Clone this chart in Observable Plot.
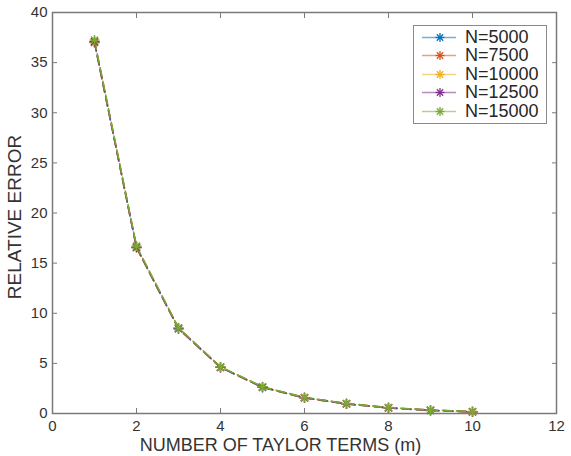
<!DOCTYPE html>
<html><head><meta charset="utf-8">
<script src="https://cdn.jsdelivr.net/npm/d3@7"></script>
<script src="https://cdn.jsdelivr.net/npm/@observablehq/plot@0.6"></script>
<style>
body{margin:0;background:#fff;font-family:"Liberation Sans",Arial,sans-serif;}
#wrap{position:relative;width:571px;height:456px;}
#legend{position:absolute;left:413px;top:25px;width:134px;height:99px;border:1.5px solid #8a8a8a;background:#fff;box-sizing:border-box;}
</style>
</head><body>
<div id="wrap"><div id="legend"></div></div>
<script>
const terms = [1,2,3,4,5,6,7,8,9,10];
const seriesNames = ["N=5000","N=7500","N=10000","N=12500","N=15000"];
const err5000  = [37.0,16.55,8.45,4.6,2.6,1.55,0.95,0.55,0.3,0.15];
const err7500  = [37.05,16.55,8.45,4.6,2.62,1.56,0.96,0.56,0.31,0.16];
const err10000 = [37.1,16.6,8.5,4.62,2.64,1.58,0.98,0.58,0.33,0.18];
const err12500 = [37.1,16.6,8.5,4.62,2.64,1.58,0.98,0.58,0.33,0.18];
const err15000 = [37.25,16.7,8.55,4.65,2.68,1.6,1.0,0.6,0.35,0.2];
const xTicks = [0,2,4,6,8,10,12];
const yTicks = [0,5,10,15,20,25,30,35,40];
const colors = ["#0072BD","#D95319","#EDB120","#7E2F8E","#77AC30"];

const allSeries = [err5000,err7500,err10000,err12500,err15000];
const data = [];
allSeries.forEach((s,i)=>s.forEach((v,j)=>data.push({m:terms[j], err:v, series:seriesNames[i]})));

// MATLAB-style 8-spoke asterisk
const star8 = {
  draw(ctx, size){
    const r = Math.sqrt(size/Math.PI);
    const d = r*Math.SQRT1_2;
    ctx.moveTo(-r,0); ctx.lineTo(r,0);
    ctx.moveTo(0,-r); ctx.lineTo(0,r);
    ctx.moveTo(-d,-d); ctx.lineTo(d,d);
    ctx.moveTo(-d,d); ctx.lineTo(d,-d);
  }
};

const axisColor = "#7a7a7a";
const plot = Plot.plot({
  width:571, height:456,
  marginLeft:52, marginRight:15, marginTop:12, marginBottom:43,
  style:{fontFamily:"Liberation Sans, Arial, sans-serif", fontSize:"15px", color:"#333"},
  x:{domain:[0,12]},
  y:{domain:[0,40]},
  color:{domain:seriesNames, range:colors},
  marks:[
    Plot.frame({stroke:axisColor, strokeWidth:1.5}),
    Plot.axisX(xTicks,{anchor:"bottom", tickSize:-5, tickPadding:12, stroke:axisColor, fill:"#333", fontSize:15, label:null}),
    Plot.axisX(xTicks,{anchor:"top", tickSize:-5, stroke:axisColor, text:null, label:null}),
    Plot.axisY(yTicks,{anchor:"left", tickSize:-5, tickPadding:10, stroke:axisColor, fill:"#333", fontSize:15, label:null}),
    Plot.axisY(yTicks,{anchor:"right", tickSize:-5, stroke:axisColor, text:null, label:null}),
    Plot.line(data,{x:"m", y:"err", z:"series", stroke:"series", strokeWidth:1.6, strokeDasharray:"9,5"}),
    Plot.dot(data,{x:"m", y:"err", stroke:"series", symbol:star8, r:5, strokeWidth:1.3}),
    Plot.text(["NUMBER OF TAYLOR TERMS (m)"],{frameAnchor:"bottom", lineAnchor:"middle", dx:-24, dy:32, fontSize:18, fill:"#333", textAnchor:"middle"}),
    Plot.text(["RELATIVE ERROR"],{frameAnchor:"left", dx:-38, dy:4, rotate:-90, fontSize:19, fill:"#333", textAnchor:"middle"})
  ]
});
document.getElementById("wrap").prepend(plot);

const lg = d3.select("#legend");
seriesNames.forEach((name,i)=>{
  const row = lg.append("div").style("display","flex").style("align-items","center").style("height","18.5px").style("margin-top", i===0?"2px":"0");
  const svg = row.append("svg").attr("width",50).attr("height",19);
  svg.append("line").attr("x1",8).attr("x2",42).attr("y1",9.5).attr("y2",9.5).attr("stroke",colors[i]).attr("stroke-width",1.6).attr("opacity",0.55);
  const g = svg.append("g").attr("transform","translate(26,9.5)").attr("stroke",colors[i]).attr("stroke-width",1.3);
  for(let a=0;a<4;a++){const t=a*Math.PI/4;g.append("line").attr("x1",-4.5*Math.cos(t)).attr("y1",-4.5*Math.sin(t)).attr("x2",4.5*Math.cos(t)).attr("y2",4.5*Math.sin(t));}
  row.append("span").text(name).style("font-size","18px").style("color","#262626").style("margin-left","1px");
});
</script>
</body></html>
